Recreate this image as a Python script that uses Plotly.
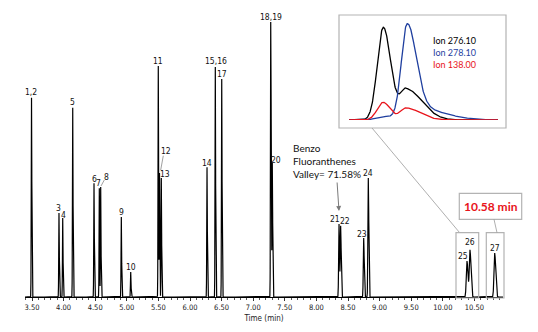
import numpy as np
import plotly.graph_objects as go

# ---------------- data ----------------
peak_names = ["1,2", "3", "4", "5", "6", "7", "8", "9", "10", "11", "12", "13", "14",
              "15,16", "17", "18,19", "20", "21", "22", "23", "24", "25", "26", "27"]
peak_times = [3.492, 3.927, 3.986, 4.144, 4.481, 4.565, 4.587, 4.913, 5.062, 5.498, 5.517,
              5.546, 6.269, 6.400, 6.502, 7.277, 7.302, 8.358, 8.384, 8.748, 8.821,
              10.383, 10.430, 10.821]
peak_heights = [200, 84, 79, 190, 114, 109, 110, 80, 25, 231, 124, 119, 130,
                231, 218, 275, 132, 73, 71, 59, 119, 36, 47, 44]
peak_sig_left = [0.004] * 17 + [0.006] * 4 + [0.011, 0.011, 0.011]
peak_sig_right = [0.005] * 15 + [0.008, 0.006] + [0.008] * 4 + [0.015, 0.015, 0.015]

label_times = [3.484, 3.927, 3.995, 4.138, 4.486, 4.560, 4.682, 4.913, 5.062, 5.498, 5.615,
               5.609, 6.264, 6.411, 6.506, 7.277, 7.361, 8.294, 8.448, 8.726, 8.821,
               10.324, 10.430, 10.821]
label_levels = [205.3, 88.7, 82, 194.7, 118.3, 113.7, 119.7, 85, 30, 235.7, 146,
                122.7, 134.3, 235.7, 222.7, 280.3, 137, 77.7, 76.3, 63, 123.7,
                41, 55.3, 48.7]

# inset (ion traces of peaks 25/26)
ion_names = ["Ion 276.10", "Ion 278.10", "Ion 138.00"]
ion_colors = ["#000000", "#1f3f9f", "#e8141b"]
ion_centers = [[10.3737, 10.4224], [10.3734, 10.4245, 10.4361], [10.3734, 10.4224]]
ion_heights = [[92.7, 31.0], [3.5, 85.0, 13.0], [17.7, 12.0]]
ion_sig_left = [[0.0129, 0.0129], [0.015, 0.012, 0.0215], [0.0129, 0.0129]]
ion_sig_right = [[0.0161, 0.0344], [0.015, 0.0193, 0.060], [0.015, 0.030]]

x_ticks_start, x_ticks_step = 3.5, 0.5


def peak(t, c, h, sl, sr):
    s = np.where(t < c, sl, sr)
    return h * np.exp(-0.5 * ((t - c) / s) ** 2)


# ---------------- geometry helpers ----------------
L, R, B, T = 25, 35, 35, 0
W, H = 538, 332
PW, PH = W - L - R, H - T - B


def px(x):
    return (x - L) / PW


def py(y):
    return (H - B - y) / PH


x_min = 3.5 + (L - 32) / 63.2
x_max = 3.5 + (W - R - 32) / 63.2

t = np.arange(x_min, x_max, 0.0008)
signal = np.zeros_like(t)
for c, h, sl, sr in zip(peak_times, peak_heights, peak_sig_left, peak_sig_right):
    signal += peak(t, c, h, sl, sr)

fig = go.Figure()
fig.add_trace(go.Scatter(x=t, y=signal, mode="lines",
                         line=dict(color="#000000", width=1.2),
                         hoverinfo="skip", showlegend=False))

ti = np.linspace(10.30, 10.62, 600)
for name, col, cs, hs, sls, srs in zip(ion_names, ion_colors, ion_centers, ion_heights,
                                        ion_sig_left, ion_sig_right):
    yv = np.zeros_like(ti)
    for c, h, sl, sr in zip(cs, hs, sls, srs):
        yv += peak(ti, c, h, sl, sr)
    fig.add_trace(go.Scatter(x=ti, y=yv, mode="lines", xaxis="x2", yaxis="y2",
                             line=dict(color=col, width=1.3),
                             hoverinfo="skip", showlegend=False))

label_font = dict(family="Liberation Sans Narrow, DejaVu Sans Condensed, sans-serif",
                  size=8.5, color="#111111")
annotations = []
for name, lt, lv in zip(peak_names, label_times, label_levels):
    annotations.append(dict(x=lt, y=lv, xref="x", yref="y", text=name, showarrow=False,
                            font=label_font, xanchor="center", yanchor="middle"))

# inset legend text
for i, (name, col) in enumerate(zip(ion_names, ion_colors)):
    annotations.append(dict(x=px(431), y=py(40.7 + 11.8 * i), xref="paper", yref="paper",
                            text=name, showarrow=False, xanchor="left", yanchor="middle",
                            font=dict(family="Lato, sans-serif", size=9, color=col)))

annotations.append(dict(x=px(290.5), y=py(160.5), xref="paper", yref="paper",
                        text="Benzo<br>Fluoranthenes<br>Valley= 71.58%", align="left",
                        showarrow=False, xanchor="left", yanchor="middle",
                        font=dict(family="Lato, sans-serif", size=10, color="#111111")))
annotations.append(dict(x=px(339), y=py(211), xref="paper", yref="paper", text="",
                        showarrow=True, ax=-2, ay=-30, axref="pixel", ayref="pixel",
                        arrowhead=2, arrowsize=1, standoff=0, startstandoff=0,
                        arrowwidth=1, arrowcolor="#7a7a7a"))
annotations.append(dict(x=px(490.5), y=py(206.3), xref="paper", yref="paper",
                        text="<b>10.58 min</b>", showarrow=False,
                        xanchor="center", yanchor="middle",
                        font=dict(family="Lato, sans-serif", size=12, color="#e8141b")))

box_line = dict(color="#b3b3b3", width=1.2)
shapes = [
    dict(type="rect", xref="paper", yref="paper", x0=px(339), x1=px(506), y0=py(128), y1=py(15),
         line=box_line, fillcolor="rgba(0,0,0,0)", layer="below"),
    dict(type="line", xref="paper", yref="paper", x0=px(372), x1=px(459.5), y0=py(128), y1=py(232.5),
         line=dict(color="#9a9a9a", width=0.8)),
    dict(type="rect", xref="paper", yref="paper", x0=px(456), x1=px(478.7), y0=py(298), y1=py(232.7),
         line=box_line),
    dict(type="rect", xref="paper", yref="paper", x0=px(486.3), x1=px(504), y0=py(298), y1=py(232.7),
         line=box_line),
    dict(type="rect", xref="paper", yref="paper", x0=px(459.3), x1=px(521.7), y0=py(219.3), y1=py(193.3),
         line=box_line),
    dict(type="line", xref="paper", yref="paper", x0=px(494), x1=px(497), y0=py(219.3), y1=py(232.7),
         line=dict(color="#9a9a9a", width=0.8)),
    dict(type="line", xref="paper", yref="paper", x0=px(104.3), x1=px(101), y0=py(180), y1=py(186),
         line=dict(color="#777777", width=0.7)),
    dict(type="line", xref="paper", yref="paper", x0=px(163.3), x1=px(160.7), y0=py(155.7), y1=py(170),
         line=dict(color="#777777", width=0.7)),
]

fig.update_layout(
    width=W, height=H,
    margin=dict(l=L, r=R, t=T, b=B, pad=0),
    paper_bgcolor="white", plot_bgcolor="white",
    showlegend=False,
    xaxis=dict(range=[x_min, x_max], showgrid=False, zeroline=False,
               showline=True, linecolor="#000000", linewidth=1,
               tick0=x_ticks_start, dtick=x_ticks_step, tickformat=".2f",
               ticks="outside", ticklen=3, tickcolor="#333333", tickwidth=0.8,
               minor=dict(dtick=0.1, ticks="outside", ticklen=2, tickcolor="#555555"),
               tickfont=dict(family="Liberation Sans Narrow, DejaVu Sans Condensed, sans-serif",
                             size=7.5, color="#222222"),
               title=dict(text="Time (min)", standoff=4,
                          font=dict(family="Liberation Sans Narrow, DejaVu Sans Condensed, sans-serif",
                                    size=8, color="#222222"))),
    yaxis=dict(range=[0, PH], visible=False, fixedrange=True),
    xaxis2=dict(domain=[px(349), px(498)], anchor="y2", range=[10.30, 10.62],
                visible=False),
    yaxis2=dict(domain=[py(120), py(20)], anchor="x2", range=[0, 100], visible=False),
    annotations=annotations,
    shapes=shapes,
)

fig.write_html("out.html")
